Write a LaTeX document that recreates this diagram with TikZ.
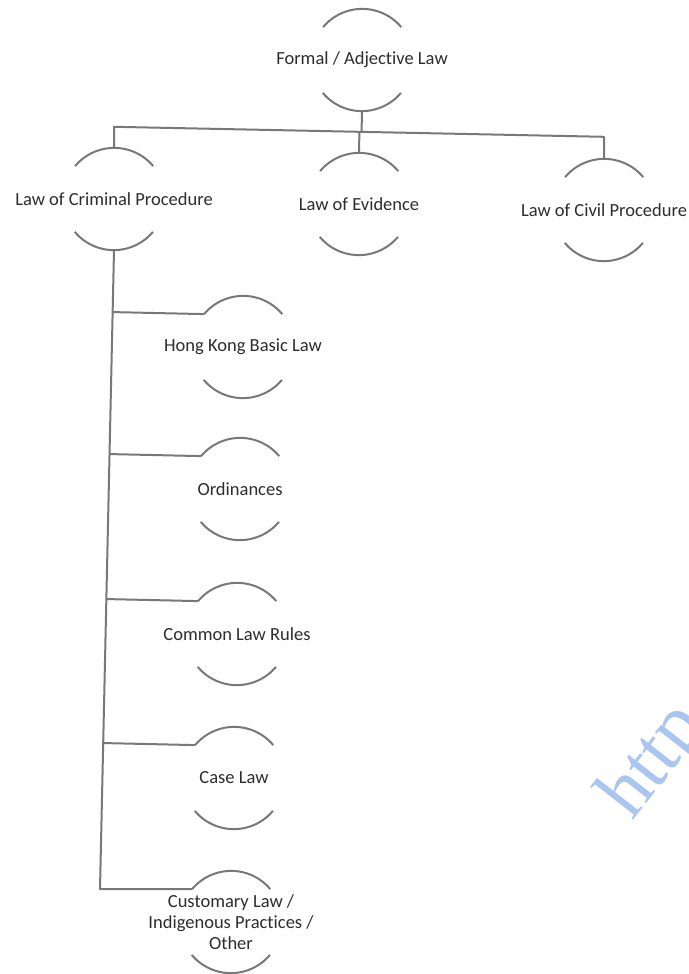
\documentclass[tikz,border=0pt]{standalone}
\usepackage{fontspec}
\setmainfont[Ligatures=NoCommon]{Carlito}
\newfontfamily\wmfont{Liberation Serif}
\usetikzlibrary{calc}
\definecolor{lineg}{RGB}{120,120,120}
\definecolor{txt}{RGB}{45,45,45}
\definecolor{wm}{RGB}{170,198,240}
\newcommand\ringarcs[1]{%
  \draw[halves] (#1.40) arc[start angle=40,end angle=140,radius=51pt];
  \draw[halves] (#1.220) arc[start angle=220,end angle=320,radius=51pt];}
\begin{document}
\begin{tikzpicture}[x=1pt,y=1pt,
  ring/.style={circle,minimum size=102pt,inner sep=0pt,draw=none},
  lbl/.style={font=\fontsize{18.5}{20.8}\selectfont,text=txt,inner sep=0pt,align=center},
  link/.style={draw=lineg,line width=2pt,line join=round},
  halves/.style={draw=lineg,line width=2pt}]
\useasboundingbox (0,0) rectangle (688,-974);
\fill[white] (0,0) rectangle (688,-974);

% rings
\node[ring] (formal) at (362,-60) {};
\node[ring] (crim) at (114,-199) {};
\node[ring] (evid) at (359,-204) {};
\node[ring] (civil) at (604,-210) {};
\node[ring] (hk) at (243,-347) {};
\node[ring] (ord) at (240,-489) {};
\node[ring] (clr) at (237,-634) {};
\node[ring] (case) at (234,-778) {};
\node[ring] (cust) at (231,-922) {};

\foreach \n in {formal,crim,evid,civil,hk,ord,clr,case,cust}{\ringarcs{\n}}

% labels
\node[lbl] (formal-t) at (formal) {Formal / Adjective Law};
\node[lbl] (crim-t) at (crim) {Law of Criminal Procedure};
\node[lbl] (evid-t) at (evid) {Law of Evidence};
\node[lbl] (civil-t) at (civil) {Law of Civil Procedure};
\node[lbl] (hk-t) at (hk) {Hong Kong Basic Law};
\node[lbl] (ord-t) at (ord) {Ordinances};
\node[lbl] (clr-t) at (clr) {Common Law Rules};
\node[lbl] (case-t) at (case) {Case Law};
\node[lbl] (cust-t) at (cust) {Customary Law /\\Indigenous Practices /\\Other};

% top bus
\coordinate (busL) at ([yshift=21pt]crim.north);
\coordinate (busR) at ([yshift=22pt]civil.north);
\draw[link] (crim.north) -- (busL) -- (busR) -- (civil.north);
\draw[link] (formal.south) -- ($(busL)!(formal.south)!(busR)$);
\draw[link] (evid.north) -- ($(busL)!(evid.north)!(busR)$);

% trunk
\coordinate (tEnd) at (100,-889);
\draw[link] (crim.south) -- (tEnd) -- (cust.140);
\foreach \n in {hk,ord,clr,case}{
  \draw[link] ($(crim.south)!(\n.140)!(tEnd)$) -- (\n.140);}

% watermark
\node[anchor=base west,rotate=52,inner sep=0pt,text=wm,font=\wmfont\fontsize{78}{78}\selectfont] (wmark) at (632,-822) {http};
\end{tikzpicture}
\end{document}
